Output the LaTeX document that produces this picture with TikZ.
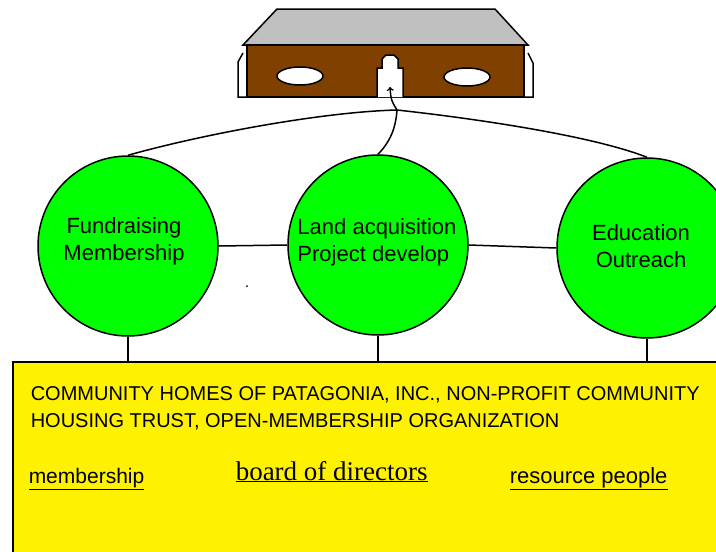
\documentclass[tikz,border=0pt]{standalone}
\usepackage{fontspec}
\setmainfont{Liberation Sans}
\newfontfamily\serifface{Liberation Serif}
\definecolor{brick}{RGB}{128,64,0}
\definecolor{roofgray}{RGB}{192,192,192}
\begin{document}
\begin{tikzpicture}[x=1pt,y=-1pt,line width=1.5,
    bubble/.style={circle,draw,fill=green,minimum size=180pt,inner sep=0pt},
    words/.style={font=\fontsize{22}{27}\selectfont,align=center},
    boxtext/.style={anchor=base west,inner sep=0pt}]
  \useasboundingbox (0,0) rectangle (716,552);
      \coordinate (J) at (397,110);
         \coordinate (door) at (390,87);
  % the house
  \filldraw[fill=roofgray] (243,45)--(277,9)--(495,9)--(528,45)--cycle;
  \filldraw[fill=brick] (247,45) rectangle (524,97);
  \draw (247,97)--(238,97)--(238,62)--(243,53) (524,97)--(533,97)--(533,63)--(528,53);
  \filldraw[fill=white] (300,76) ellipse (23 and 9) (467,77) ellipse (23 and 9);
  \filldraw[fill=white] (377,97)--(377,68)--(382,68)--(382,59)--(386,55)--(394,55)--(398,59)--(398,68)--(403,68)--(403,97);
  % the trust
     \node (trust) at (12,361)[draw,fill=yellow,anchor=north west,minimum width=720pt,minimum height=200pt,inner sep=0pt]{};
  % the three circles
        \node (fund) at (128,246)[bubble]{};
      \node (land) at (378,245)[bubble]{};
   \node (edu) at (647,248)[bubble]{};
  \node (fundtxt) at (124,241)[words]{Fundraising\\Membership};
  \node (landtxt) at (377,242)[words,align=left]{Land acquisition\\Project develop};
  \node (edutxt) at (641,246)[words]{Education\\Outreach};
  \draw (fund.east)--(land.west) (land.east)--(edu.west);
  \draw (fund.south)--(fund.south |- trust.north) (land.south)--(land.south |- trust.north) (edu.south)--(edu.south |- trust.north);
  \draw (fund.north) .. controls (200,135) and (320,112) .. (J);
  \draw (land.north) .. controls (392,140) and (396,125) .. (J);
  \draw (J) .. controls (470,118) and (590,135) .. (edu.north);
  \draw[->] (J) .. controls (391,100) .. (door);
  \fill (247,286) circle (1);
  % texts of the trust
  \node (trustA) at (30,400)[boxtext,font=\fontsize{20}{24}\selectfont]{COMMUNITY HOMES OF PATAGONIA, INC., NON-PROFIT COMMUNITY};
  \node (trustB) at (30,427)[boxtext,font=\fontsize{20}{24}\selectfont]{HOUSING TRUST, OPEN-MEMBERSHIP ORGANIZATION};
  \node (members) at (28,483)[boxtext,font=\fontsize{21}{25}\selectfont]{\underline{membership}};
  \node (board) at (235,480)[boxtext,font=\fontsize{27}{32}\serifface]{\underline{board of directors}};
  \node (resource) at (509,483)[boxtext,font=\fontsize{22}{26}\selectfont]{\underline{resource people}};
\end{tikzpicture}
\end{document}
